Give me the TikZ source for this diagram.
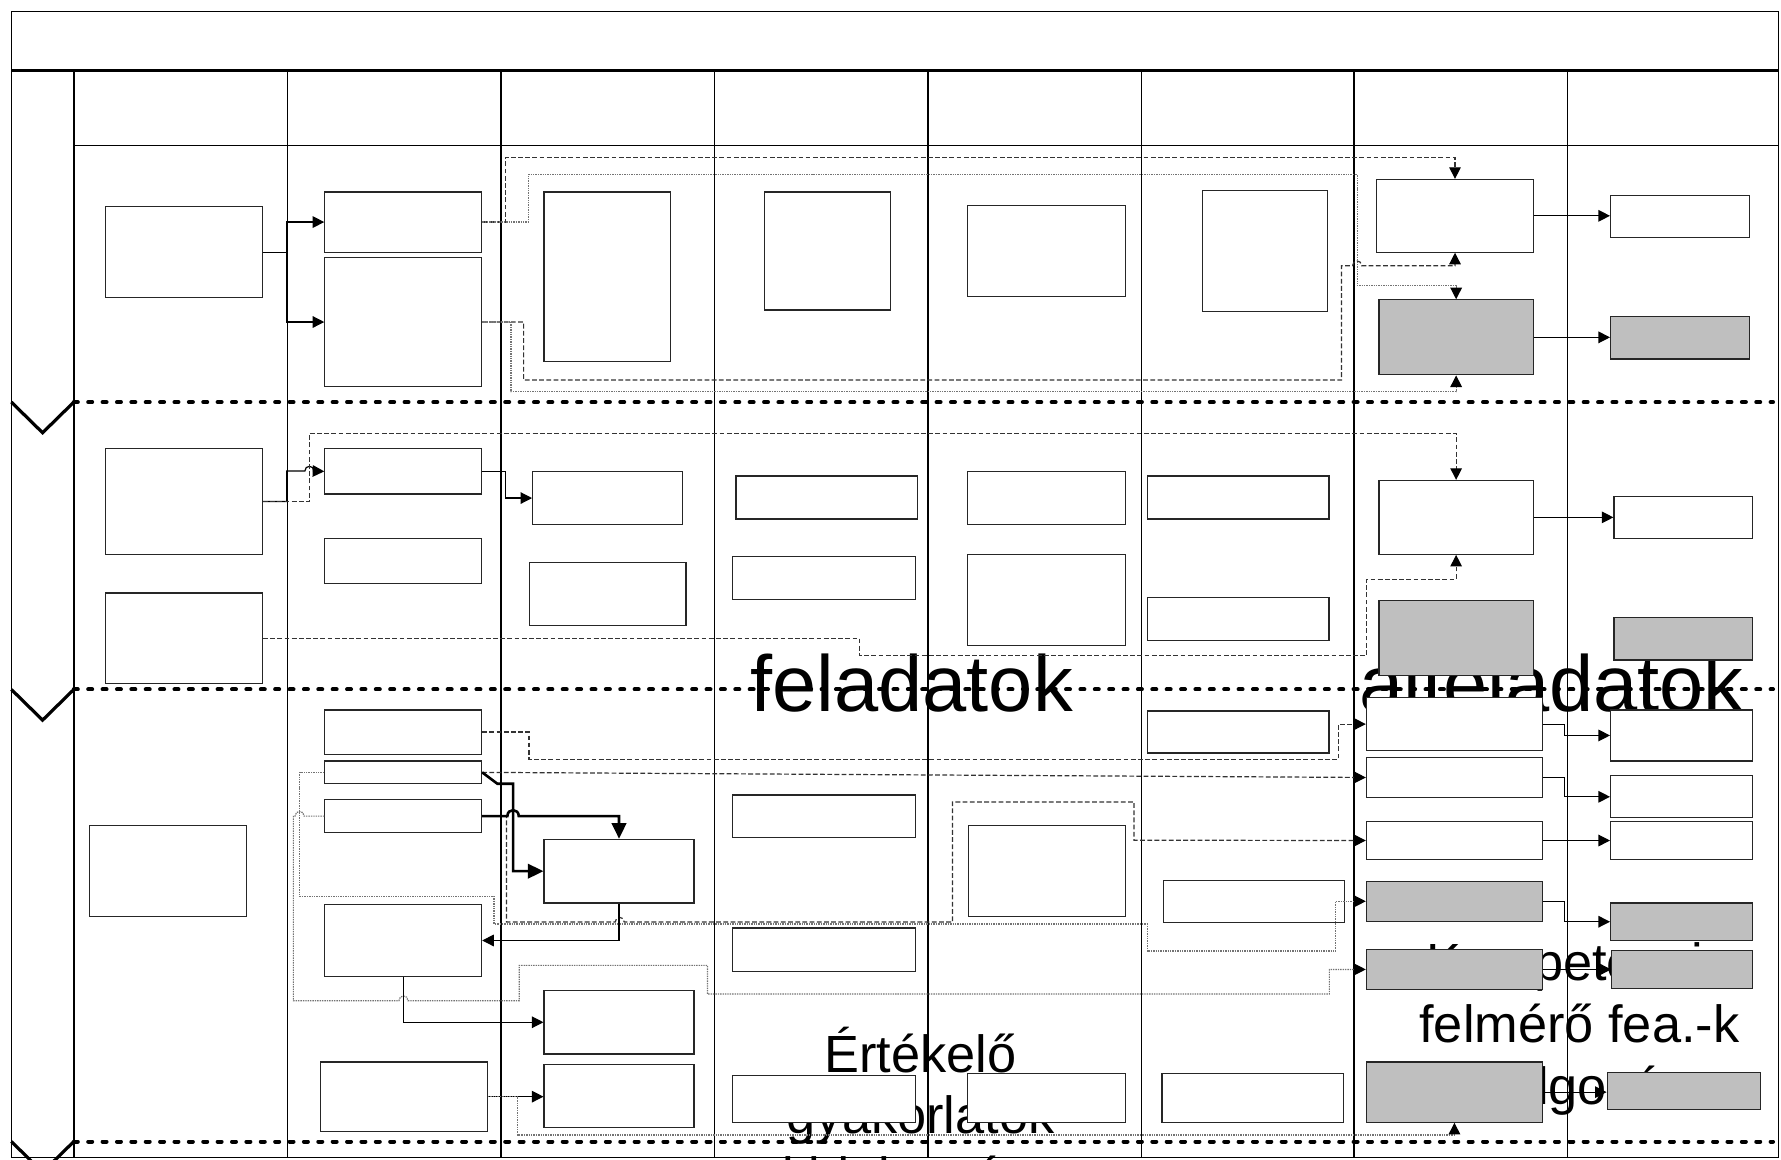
\documentclass[tikz,border=0pt]{standalone}
\usepackage{fontspec}
\setmainfont{Liberation Sans}
\usetikzlibrary{arrows.meta,fit}

\begin{document}
\begin{tikzpicture}[x=0.01cm,y=-0.01cm]
  \tikzset{
    fbox/.style={draw=black!85,line width=0.3pt,fill=white,inner sep=0pt},
    gbox/.style={fbox,fill=black!25},
    conn/.style={line width=0.3pt,-{Triangle[length=2.9pt,width=2.9pt,black]}},
    dsh/.style={conn,draw=black!80,dash pattern=on 1.2pt off 0.6pt},
    gdot/.style={conn,draw=black!55,dash pattern=on 0.35pt off 0.25pt},
    bold/.style={line width=0.65pt,-{Triangle[length=3.9pt,width=3.6pt]}},
    phase/.style={line width=1pt,dash pattern=on 1pt off 2.6pt,line cap=round},
    grid/.style={line width=0.35pt},
    bigtxt/.style={font=\fontsize{19.9pt}{22pt}\selectfont,inner sep=0pt,anchor=base},
    midtxt/.style={font=\fontsize{13.1pt}{15pt}\selectfont,inner sep=0pt,anchor=base}
  }
  \useasboundingbox (0,0) rectangle (1568,1021);
  \clip (0,0) rectangle (1568,1021);
  \draw[grid] (10,10) rectangle (1566,1019);
  \draw[line width=0.7pt] (10,62) -- (1566,62);
  \draw[grid] (65,128) -- (1566,128);
  \foreach \x in {65,253,441,629,817,1005,1192,1380}
    \draw[grid] (\x,62) -- (\x,1019);
  \foreach \y in {354,607,1005} {
    \draw[phase] (65,\y) -- (1561,\y);
    \draw[line width=0.8pt] (10,\y) -- (37.5,\y+27) -- (65,\y);
  }
  \node[bigtxt] (fel) at (802.5,626.3) {feladatok};
  \node[bigtxt] (alfel) at (1366,626.3) {alfeladatok};
  \node[midtxt] (ert1) at (810.5,944) {Értékelő};
  \node[midtxt] (ert2) at (810.5,998) {gyakorlatok};
  \node[midtxt] (ert3) at (810.5,1052) {kidolgozása};
  \node[midtxt] (komp1) at (1390.5,863) {Kompetencia};
  \node[midtxt] (komp2) at (1390.5,918) {felmérő fea.-k};
  \node[midtxt] (komp3) at (1390.5,972) {kidolgozása};
  \foreach \n/\xa/\ya/\xb/\yb in {p1c1/93/182/231/262,p1c2a/286/169/424/222,p1c2b/286/227/424/340,
      p1c3/479/169/590/318,p1c4/673/169/784/273,p1c5/852/181/991/261,p1c6/1059/168/1169/274,
      p1c7a/1212/158/1350/222,p1c8a/1418/172/1540/209,
      p2c1a/93/395/231/488,p2c1b/93/522/231/602,p2c2a/286/395/424/435,p2c2b/286/474/424/514,
      p2c3a/469/415/601/462,p2c3b/466/495/604/551,p2c4a/648/419/808/457,p2c4b/645/490/806/528,
      p2c5a/852/415/991/462,p2c5b/852/488/991/568,p2c6a/1010/419/1170/457,p2c6b/1010/526/1170/564,
      p2c7a/1214/423/1350/488,p2c8a/1421/437/1543/474,
      p3c1/79/727/217/807,p3c2a/286/625/424/664,p3c2b/286/670/424/690,p3c2c/286/704/424/733,
      p3c2d/286/796/424/860,p3c2e/282/935/429/996,p3c3a/479/739/611/795,p3c3b/479/872/611/928,
      p3c3c/479/937/611/993,p3c4a/645/700/806/737,p3c4b/645/817/806/855,p3c4c/645/947/806/988,
      p3c5a/853/727/991/807,p3c5b/852/945/991/988,p3c6a/1010/626/1170/663,p3c6b/1024/775/1184/812,
      p3c6c/1023/945/1183/988,p3c7a/1203/614/1358/661,p3c7b/1203/667/1358/702,p3c7c/1203/723/1358/757,
      p3c8a/1418/625/1543/670,p3c8b/1418/683/1543/720,p3c8c/1418/723/1543/757}
    \node[fbox,fit={(\xa,\ya) (\xb,\yb)}] (\n) {};
  \foreach \n/\xa/\ya/\xb/\yb in {p1c7b/1214/264/1350/330,p1c8b/1418/279/1540/316,
      p2c7b/1214/529/1350/595,p2c8b/1421/544/1543/581,
      p3c7d/1203/776/1358/811,p3c7e/1203/836/1358/871,p3c7f/1203/935/1358/988,
      p3c8d/1418/795/1543/828,p3c8e/1419/837/1543/870,p3c8f/1415/944/1550/977}
    \node[gbox,fit={(\xa,\ya) (\xb,\yb)}] (\n) {};

  \draw[conn] (p1c1.east) -- ++(21,0) |- (p1c2a.west);
  \draw[conn] (p1c1.east) -- ++(21,0) |- (p1c2b.west);
  \draw[dsh] (p1c2a.east) -| (445,138.5) -| (p1c7a.north);
  \draw[gdot] (p1c2a.east) -| (465,153.8) -| (1194.8,251.5) -| (p1c7b.north);
  \draw[dsh] (p1c2b.east) -| (461,334.6) -| (1181,233.9) -- (1190.8,233.9)
    .. controls (1190.8,228.4) and (1198.8,228.4) .. (1198.8,233.9) -| (p1c7a.south);
  \draw[gdot] (p1c2b.east) -| (449.8,345) -| (p1c7b.south);
  \draw[conn] (p1c7a.east) -- (p1c7a.east -| p1c8a.west);
  \draw[conn] (p1c7b.east) -- (p1c7b.east -| p1c8b.west);

  \draw[conn] (p2c1a.east) -- ++(21,0) |- (268.4,414.7)
    .. controls (268.4,409.2) and (276.4,409.2) .. (276.4,414.7) -- (p2c2a.west);
  \draw[dsh] (p2c1a.east) -| (272.4,381.5) -| (p2c7a.north);
  \draw[conn] (p2c2a.east) -| (445,438.5) -- (p2c3a.west);
  \draw[dsh] (p2c1b.east) -| (756.6,577) -| (1203.4,510) -| (p2c7a.south);
  \draw[conn] (p2c7a.east) -- (p2c7a.east -| p2c8a.west);

  \draw[dsh] (p3c2a.east) -| (465.8,668.5) -| (1178.3,637.5) -- (p3c7a.west);
  \draw[dsh] (p3c2b.east) -- (p3c7b.west);
  \draw[dsh] (p3c2c.east) -| (446,811.8) -- (541.6,811.8)
    .. controls (541.6,806.3) and (549.6,806.3) .. (549.6,811.8) -| (838.5,706) -| (998.4,739.7) -- (p3c7c.west);
  \draw[gdot] (p3c2b.west) -| (263.8,789.2) -| (435,813.5) -| (1010,837.3) -| (1175.7,793.5) -- (p3c7d.west);
  \draw[gdot] (p3c2c.west) -- (267.8,718.5) .. controls (267.8,713) and (259.8,713) .. (259.8,718.5)
    -- (258.3,718.5) |- (351.2,881) .. controls (351.2,875.5) and (359.2,875.5) .. (359.2,881)
    -| (457.2,849.9) -| (622.8,875.2) -| (1170.4,853.5) -- (p3c7e.west);
  \draw[bold] (p3c2b.east) -- (437.9,690) -| (451.7,767) -- (p3c3a.west);
  \draw[bold] (p3c2c.east) -- (446.7,718.5)
    .. controls (446.7,711.5) and (456.7,711.5) .. (456.7,718.5) -| (p3c3a.north);
  \draw[conn] (p3c3a.south) |- (p3c2d.east);
  \draw[conn] (p3c2d.south) |- (p3c3b.west);
  \draw[conn] (p3c2e.east) -- (p3c2e.east -| p3c3c.west);
  \draw[gdot] (p3c2e.east) -| (455.9,999.3) -| (p3c7f.south);
  \draw[conn] (p3c7a.east) -| (1377.7,647.5) -- (p3c8a.west);
  \draw[conn] (p3c7b.east) -| (1377.7,701.5) -- (p3c8b.west);
  \draw[conn] (p3c7c.east) -- (p3c7c.east -| p3c8c.west);
  \draw[conn] (p3c7d.east) -| (1377.7,811.5) -- (p3c8d.west);
  \draw[conn] (p3c7e.east) -- (p3c7e.east -| p3c8e.west);
  \draw[conn] (p3c7f.east) -- (p3c7f.east -| p3c8f.west);
\end{tikzpicture}
\end{document}
